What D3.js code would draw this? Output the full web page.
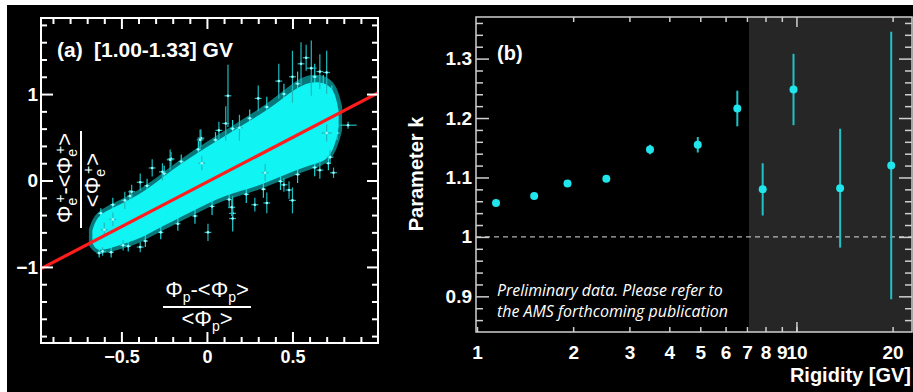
<!DOCTYPE html>
<html>
<head>
<meta charset="utf-8">
<script src="https://cdn.jsdelivr.net/npm/d3@7"></script>
<style>
body{margin:0;background:#fff}
svg{display:block}
</style>
</head>
<body>
<svg id="chart" width="913" height="392"></svg>
<script>
// ---- panel (a): e+ vs p flux deviations, 1.00-1.33 GV
var cloudX  = [-0.67,-0.65,-0.6,-0.5,-0.4,-0.3,-0.2,-0.1,0,0.1,0.2,0.3,0.4,0.5,0.6,0.7,0.75,0.77];
var cloudHi = [-0.58,-0.45,-0.36,-0.27,-0.17,-0.03,0.13,0.26,0.39,0.51,0.63,0.75,0.88,1.04,1.15,1.13,1.02,0.80];
var cloudLo = [-0.72,-0.80,-0.81,-0.74,-0.68,-0.57,-0.47,-0.37,-0.27,-0.18,-0.12,-0.06,0.02,0.10,0.18,0.22,0.40,0.62];
var haloX   = [-0.69,-0.66,-0.6,-0.5,-0.4,-0.3,-0.2,-0.1,0,0.1,0.2,0.3,0.4,0.5,0.6,0.7,0.76,0.79];
var haloHi  = [-0.56,-0.40,-0.31,-0.22,-0.11,0.02,0.18,0.32,0.45,0.57,0.70,0.82,0.96,1.13,1.24,1.21,1.10,0.86];
var haloLo  = [-0.75,-0.84,-0.85,-0.79,-0.73,-0.62,-0.52,-0.42,-0.32,-0.23,-0.17,-0.11,-0.03,0.05,0.13,0.18,0.35,0.58];
// [x, y, xerr, yerr]
var outliers = [
  [0.123,0.98,0.02,0.36],[0.19,0.61,0.02,0.15],[-0.035,0.49,0.02,0.10],[-0.21,0.25,0.02,0.08],
  [-0.32,0.145,0.02,0.10],[-0.44,-0.13,0.02,0.08],[0.825,0.64,0.05,0.04],[0.61,1.30,0.03,0.32],
  [0.66,1.26,0.02,0.20],[0.72,0.27,0.02,0.08],[0.66,0.12,0.02,0.10],[0.74,0.09,0.02,0.06],
  [0.006,-0.60,0.02,0.10],[0.15,-0.38,0.02,0.20],[-0.49,-0.75,0.02,0.06],[-0.39,-0.77,0.02,0.06],
  [-0.61,-0.82,0.02,0.05],[0.50,-0.23,0.02,0.15],[0.35,-0.26,0.02,0.12],[-0.215,0.24,0.02,0.12],
  [-0.39,-0.02,0.02,0.10],[-0.26,0.10,0.02,0.10],[-0.04,0.47,0.02,0.12],[0.15,-0.44,0.02,0.15],
  [0.145,-0.31,0.02,0.10],[0.48,-0.11,0.02,0.10],[0.45,-0.05,0.02,0.08],[0.34,0.09,0.02,0.10],
  [-0.03,0.20,0.02,0.08],[-0.48,-0.23,0.02,0.10],[-0.60,-0.57,0.02,0.08],[0.07,0.58,0.02,0.10],
  [0.11,0.66,0.02,0.20],[0.55,1.35,0.02,0.25],[0.42,1.15,0.02,0.20],[0.30,0.95,0.02,0.15],
  [0.70,0.55,0.03,0.10],[0.50,1.20,0.02,0.30],[0.70,1.25,0.02,0.25],[0.58,1.42,0.02,0.15],
  [0.28,-0.28,0.02,0.08],[-0.55,-0.45,0.02,0.08]
];
// points sitting on the rim of the dense cloud
var rimPoints = [
  [-0.62,-0.38,0.015,0.06],[-0.55,-0.28,0.015,0.08],[-0.45,-0.18,0.015,0.07],[-0.35,-0.06,0.015,0.08],
  [-0.25,0.08,0.015,0.09],[-0.15,0.22,0.015,0.08],[-0.05,0.36,0.015,0.10],[0.05,0.47,0.015,0.09],
  [0.15,0.60,0.015,0.10],[0.25,0.72,0.015,0.10],[0.35,0.85,0.015,0.12],[0.45,1.00,0.015,0.12],
  [0.53,1.12,0.015,0.14],[0.63,1.20,0.015,0.15],[0.68,1.10,0.015,0.12],[0.73,1.00,0.015,0.10],
  [-0.63,-0.84,0.015,0.05],[-0.56,-0.83,0.015,0.06],[-0.46,-0.76,0.015,0.06],[-0.36,-0.70,0.015,0.07],
  [-0.27,-0.60,0.015,0.08],[-0.17,-0.50,0.015,0.08],[-0.07,-0.41,0.015,0.09],[0.03,-0.30,0.015,0.10],
  [0.13,-0.22,0.015,0.10],[0.23,-0.16,0.015,0.10],[0.33,-0.10,0.015,0.10],[0.43,-0.01,0.015,0.10],
  [0.53,0.07,0.015,0.10],[0.63,0.15,0.015,0.10],[0.71,0.20,0.015,0.08],[0.76,0.55,0.015,0.08],
  [-0.58,-0.48,0.015,0.07],[-0.40,-0.30,0.015,0.09],[-0.20,-0.05,0.015,0.10],[0.00,0.22,0.015,0.10],
  [0.20,0.42,0.015,0.12],[0.40,0.62,0.015,0.12],[0.60,0.85,0.015,0.14],[-0.30,-0.40,0.015,0.08],
  [-0.10,-0.15,0.015,0.09],[0.10,0.05,0.015,0.10],[0.30,0.30,0.015,0.12],[0.50,0.45,0.015,0.12]
];
var fitX = [-0.97, 1.0];
var fitY = [-1.02, 1.013];

// ---- panel (b): parameter k vs rigidity
var rigidity = [1.147, 1.51, 1.92, 2.54, 3.48, 4.91, 6.53, 7.84, 9.79, 13.7, 19.8];
var kValue   = [1.057, 1.069, 1.090, 1.098, 1.147, 1.155, 1.216, 1.080, 1.248, 1.082, 1.120];
var kError   = [0.003, 0.003, 0.003, 0.003, 0.008, 0.013, 0.030, 0.044, 0.060, 0.100, 0.225];
var rigidityTicks = [1, 2, 3, 4, 5, 6, 7, 8, 9, 10, 20];
var kTicks = [0.9, 1, 1.1, 1.2, 1.3];
var shadeFrom = 7.1;

var svg = d3.select("#chart");
var boldFont = "'Liberation Sans', Arial, Helvetica, sans-serif";

svg.append("rect").attr("x", 7).attr("y", 5).attr("width", 906).attr("height", 387).attr("fill", "#000");

function drawAxis(g, gen, vals, size, labels, pad) {
  gen.tickValues(vals).tickSizeInner(-size).tickSizeOuter(0).tickPadding(pad || 3)
     .tickFormat(labels ? labels : function(){ return ""; });
  g.call(gen);
  g.select(".domain").remove();
  return g;
}
function styleAxis(g, color, w, fs) {
  g.selectAll("line").attr("stroke", color).attr("stroke-width", w);
  g.selectAll("text").attr("fill", "#fff").attr("font-family", boldFont)
   .attr("font-weight", "bold").attr("font-size", fs);
}

// ================= panel (a)
var ax = {l: 41, r: 378, t: 18, b: 343};
var xa = d3.scaleLinear().domain([-0.97, 1.0]).range([ax.l, ax.r]);
var ya = d3.scaleLinear().domain([-1.88, 1.88]).range([ax.b, ax.t]);
var ga = svg.append("g");

function band(xs, lo, hi) {
  return d3.area().curve(d3.curveBasis)
    .x(function(d){ return xa(d[0]); })
    .y0(function(d){ return ya(d[1]); })
    .y1(function(d){ return ya(d[2]); })(xs.map(function(x, i){ return [x, lo[i], hi[i]]; }));
}
ga.append("path").attr("d", band(haloX, haloLo, haloHi)).attr("fill", "#10c8cc").attr("opacity", 0.6);

function errPoints(list, color, w) {
  var g = ga.append("g");
  list.forEach(function(p){
    g.append("line").attr("x1", xa(p[0])).attr("x2", xa(p[0]))
      .attr("y1", ya(p[1] - p[3])).attr("y2", ya(p[1] + p[3]))
      .attr("stroke", color).attr("stroke-width", w);
    g.append("line").attr("x1", xa(p[0] - p[2])).attr("x2", xa(p[0] + p[2]))
      .attr("y1", ya(p[1])).attr("y2", ya(p[1]))
      .attr("stroke", color).attr("stroke-width", w);
    g.append("circle").attr("cx", xa(p[0])).attr("cy", ya(p[1])).attr("r", 1.3).attr("fill", "#9ff");
  });
}
errPoints(rimPoints, "#18d6da", 1.2);
ga.append("path").attr("d", band(cloudX, cloudLo, cloudHi)).attr("fill", "#10f4f4");
errPoints(outliers, "#1fb9bd", 1.2);

ga.append("path")
  .datum(fitX.map(function(x, i){ return [x, fitY[i]]; }))
  .attr("d", d3.line().x(function(d){ return xa(d[0]); }).y(function(d){ return ya(d[1]); }))
  .attr("stroke", "#ff1c1c").attr("stroke-width", 3.2).attr("fill", "none");

var xaMinor = d3.range(-9, 10).map(function(i){ return i / 10; }).filter(function(v){ return [-0.5, 0, 0.5].indexOf(v) < 0; });
var yaMinor = d3.range(-9, 10).map(function(i){ return i / 5; }).filter(function(v){ return [-1, 0, 1].indexOf(v) < 0; });
var fmtA = d3.format("~g");

styleAxis(drawAxis(ga.append("g").attr("transform", "translate(0," + ax.b + ")"), d3.axisBottom(xa), xaMinor, 6), "#fff", 2, 18);
styleAxis(drawAxis(ga.append("g").attr("transform", "translate(0," + ax.b + ")"), d3.axisBottom(xa), [-0.5, 0, 0.5], 11, fmtA, 7), "#fff", 2, 18);
styleAxis(drawAxis(ga.append("g").attr("transform", "translate(0," + ax.t + ")"), d3.axisTop(xa), xaMinor, 6), "#fff", 2, 18);
styleAxis(drawAxis(ga.append("g").attr("transform", "translate(0," + ax.t + ")"), d3.axisTop(xa), [-0.5, 0, 0.5], 11), "#fff", 2, 18);
styleAxis(drawAxis(ga.append("g").attr("transform", "translate(" + ax.l + ",0)"), d3.axisLeft(ya), yaMinor, 6), "#fff", 2, 18);
styleAxis(drawAxis(ga.append("g").attr("transform", "translate(" + ax.l + ",0)"), d3.axisLeft(ya), [-1, 0, 1], 12, fmtA, 3), "#fff", 2, 19);
styleAxis(drawAxis(ga.append("g").attr("transform", "translate(" + ax.r + ",0)"), d3.axisRight(ya), yaMinor, 6), "#fff", 2, 18);
styleAxis(drawAxis(ga.append("g").attr("transform", "translate(" + ax.r + ",0)"), d3.axisRight(ya), [-1, 0, 1], 11), "#fff", 2, 18);

ga.append("rect").attr("x", ax.l).attr("y", ax.t).attr("width", ax.r - ax.l).attr("height", ax.b - ax.t)
  .attr("fill", "none").attr("stroke", "#fff").attr("stroke-width", 2);

ga.append("text").attr("x", 57).attr("y", 57).text("(a)")
  .attr("fill", "#fff").attr("font-family", boldFont).attr("font-weight", "bold").attr("font-size", 21);
ga.append("text").attr("x", 94).attr("y", 57).text("[1.00-1.33] GV")
  .attr("fill", "#fff").attr("font-family", boldFont).attr("font-weight", "bold").attr("font-size", 21);

// fraction labels
function fracText(g, x, y, parts) {
  var t = g.append("text").attr("x", x).attr("y", y).attr("text-anchor", "middle")
    .attr("fill", "#fff").attr("font-family", boldFont).attr("font-size", 22);
  parts.forEach(function(p){
    var s = t.append("tspan").text(p[0]);
    if (p[1]) s.attr("font-size", p[1]);
    if (p[2]) s.attr("dx", p[2]);
    if (p[3]) s.attr("dy", p[3]);
  });
  return t;
}
var xl = ga.append("g").attr("transform", "translate(207,307)");
xl.append("line").attr("x1", -44).attr("x2", 44).attr("stroke", "#fff").attr("stroke-width", 2);
fracText(xl, 0, -10, [["Φ"], ["p", 14, 0, 5], ["-<Φ", null, 0, -5], ["p", 14, 0, 5], [">", null, 0, -5]]);
fracText(xl, 0, 19, [["<Φ"], ["p", 14, 0, 5], [">", null, 0, -5]]);

var yl = ga.append("g").attr("transform", "translate(81,180) rotate(-90)");
yl.append("line").attr("x1", -48).attr("x2", 49).attr("stroke", "#fff").attr("stroke-width", 2);
fracText(yl, 2, -9, [["Φ"], ["e", 14, 0, 5], ["+", 14, -5, -12], ["-<Φ", null, 0, 7], ["e", 14, 0, 5], ["+", 14, -5, -12], [">", null, 0, 7]]);
fracText(yl, 0, 19, [["<Φ"], ["e", 14, 0, 5], ["+", 14, -5, -12], [">", null, 0, 7]]);

// ================= panel (b)
var bx = {l: 476, r: 912, t: 17, b: 332};
var xb = d3.scaleLog().domain([1, 23]).range([bx.l + 1, bx.r]);
var yb = d3.scaleLinear().domain([0.84, 1.37]).range([bx.b, bx.t]);
var gb = svg.append("g");

gb.append("rect").attr("x", xb(shadeFrom)).attr("y", bx.t).attr("width", bx.r - xb(shadeFrom) + 2)
  .attr("height", bx.b - bx.t).attr("fill", "#262626");

gb.append("line").attr("x1", bx.l).attr("x2", bx.r).attr("y1", yb(1)).attr("y2", yb(1))
  .attr("stroke", "#ddd").attr("stroke-width", 1).attr("stroke-dasharray", "5,4");

var ybMinor = d3.range(43, 69).map(function(i){ return i / 50; }).filter(function(v){ return kTicks.indexOf(+v.toFixed(2)) < 0; });
var xbMinor = rigidityTicks.filter(function(v){ return v !== 1 && v !== 10; });
var fmtB = d3.format("~g");
var frameB = "#cfcfcf";

styleAxis(drawAxis(gb.append("g").attr("transform", "translate(0," + bx.b + ")"), d3.axisBottom(xb), rigidityTicks, 5, fmtB, 14), frameB, 1.5, 19);
styleAxis(drawAxis(gb.append("g").attr("transform", "translate(0," + bx.b + ")"), d3.axisBottom(xb), [10], 10), frameB, 1.5, 18);
styleAxis(drawAxis(gb.append("g").attr("transform", "translate(0," + bx.t + ")"), d3.axisTop(xb), xbMinor, 5), frameB, 1.5, 18);
styleAxis(drawAxis(gb.append("g").attr("transform", "translate(0," + bx.t + ")"), d3.axisTop(xb), [10], 10), frameB, 1.5, 18);
styleAxis(drawAxis(gb.append("g").attr("transform", "translate(" + bx.l + ",0)"), d3.axisLeft(yb), ybMinor, 7), frameB, 1.5, 18);
styleAxis(drawAxis(gb.append("g").attr("transform", "translate(" + bx.l + ",0)"), d3.axisLeft(yb), kTicks, 13, fmtB, 4), frameB, 1.5, 19);
styleAxis(drawAxis(gb.append("g").attr("transform", "translate(" + bx.r + ",0)"), d3.axisRight(yb), ybMinor, 7), frameB, 1.5, 18);
styleAxis(drawAxis(gb.append("g").attr("transform", "translate(" + bx.r + ",0)"), d3.axisRight(yb), kTicks, 13), frameB, 1.5, 18);

gb.append("rect").attr("x", bx.l).attr("y", bx.t).attr("width", bx.r - bx.l).attr("height", bx.b - bx.t)
  .attr("fill", "none").attr("stroke", frameB).attr("stroke-width", 1.5);

var pts = gb.append("g");
rigidity.forEach(function(r, i){
  pts.append("line").attr("x1", xb(r)).attr("x2", xb(r))
    .attr("y1", yb(kValue[i] - kError[i])).attr("y2", yb(kValue[i] + kError[i]))
    .attr("stroke", "#1fc2c7").attr("stroke-width", 2);
  pts.append("circle").attr("cx", xb(r)).attr("cy", yb(kValue[i])).attr("r", 4).attr("fill", "#1ee6ec");
});

gb.append("text").attr("x", 497).attr("y", 60).text("(b)")
  .attr("fill", "#fff").attr("font-family", boldFont).attr("font-weight", "bold").attr("font-size", 20);

gb.append("text").attr("transform", "translate(423,174) rotate(-90)").attr("text-anchor", "middle")
  .text("Parameter k").attr("fill", "#fff").attr("font-family", boldFont)
  .attr("font-weight", "bold").attr("font-size", 20);

gb.append("text").attr("x", 911).attr("y", 382).attr("text-anchor", "end").text("Rigidity [GV]")
  .attr("fill", "#fff").attr("font-family", boldFont).attr("font-weight", "bold").attr("font-size", 20);

function fitWidth(sel, w) {
  var len = sel.node().getComputedTextLength();
  sel.attr("font-size", parseFloat(sel.attr("font-size")) * w / len);
}
var n1 = gb.append("text").attr("x", 497).attr("y", 296).text("Preliminary data. Please refer to")
  .attr("fill", "#fff").attr("font-family", "'Open Sans', sans-serif").attr("font-style", "italic").attr("font-size", 14);
fitWidth(n1, 226);
var n2 = gb.append("text").attr("x", 497).attr("y", 317).text("the AMS forthcoming publication")
  .attr("fill", "#fff").attr("font-family", "'Open Sans', sans-serif").attr("font-style", "italic").attr("font-size", 14);
fitWidth(n2, 231);
</script>
</body>
</html>
